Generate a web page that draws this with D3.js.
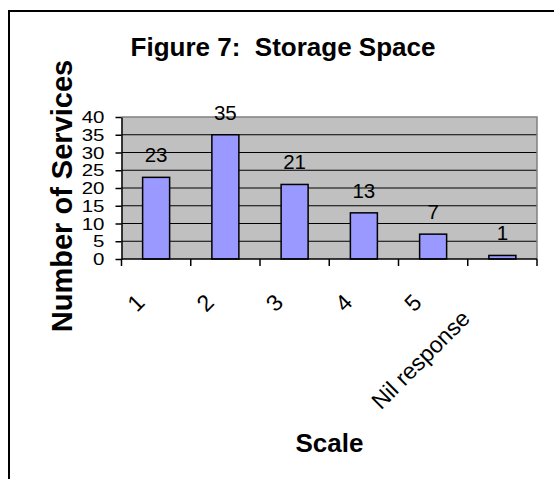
<!DOCTYPE html>
<html><head><meta charset="utf-8">
<script src="https://cdn.jsdelivr.net/npm/d3@7"></script>
<style>
html,body{margin:0;padding:0;background:#fff;}
text{font-family:"Liberation Sans",Arial,sans-serif;white-space:pre;}
</style></head>
<body>
<svg id="c" width="554" height="479"></svg>
<script>
const categories = ["1","2","3","4","5","Nil response"];
const values = [23,35,21,13,7,1];
const yTicks = [0,5,10,15,20,25,30,35,40];
const title = "Figure 7:  Storage Space";
const yTitle = "Number of Services";
const xTitle = "Scale";

const svg = d3.select("#c");
const pLeft = 121.5, pRight = 537, pTop = 117, pBottom = 259;

// outer frame
svg.append("rect").attr("x",9).attr("y",11).attr("width",560).attr("height",480)
  .attr("fill","#fff").attr("stroke","#000").attr("stroke-width",2);

const x = d3.scaleBand().domain(categories).range([pLeft,pRight]).padding(0);
const y = d3.scaleLinear().domain([0,40]).range([pBottom,pTop]);

// plot background
svg.append("rect").attr("x",pLeft).attr("y",pTop).attr("width",pRight-pLeft).attr("height",pBottom-pTop)
  .attr("fill","#c0c0c0");

// gridlines
svg.append("g").selectAll("line").data(yTicks.filter(d=>d>0&&d<40)).join("line")
  .attr("x1",pLeft).attr("x2",pRight).attr("y1",d=>y(d)).attr("y2",d=>y(d))
  .attr("stroke","#000").attr("stroke-width",1.2);
// plot border top/right gray
svg.append("path").attr("d",`M${pLeft},${y(40)}H${pRight}V${pBottom}`)
  .attr("fill","none").attr("stroke","#808080").attr("stroke-width",1.5);

// bars
const bw = x.bandwidth()*0.39;
svg.append("g").selectAll("rect").data(values).join("rect")
  .attr("x",(d,i)=>x(categories[i])+x.bandwidth()/2-bw/2)
  .attr("y",d=>y(d)).attr("width",bw).attr("height",d=>y(0)-y(d))
  .attr("fill","#9999ff").attr("stroke","#000").attr("stroke-width",1.5);

// value labels
svg.append("g").selectAll("text").data(values).join("text")
  .attr("x",(d,i)=>x(categories[i])+x.bandwidth()/2)
  .attr("y",d=>y(d)-15)
  .attr("text-anchor","middle").attr("font-size",20.5).attr("fill","#000")
  .text(d=>d);

// y axis
const ya = svg.append("g").attr("transform",`translate(${pLeft},0)`)
  .call(d3.axisLeft(y).tickValues(yTicks).tickSize(6).tickSizeOuter(0).tickPadding(11));
ya.select(".domain").attr("stroke","#000").attr("stroke-width",1.5);
ya.selectAll(".tick line").attr("stroke","#000").attr("stroke-width",1.5);
ya.selectAll(".tick text").attr("font-size",20.5).attr("font-family","Liberation Sans, Arial, sans-serif")
  .attr("fill","#000").attr("dy","0.34em").attr("transform","scale(1,0.79)");

// x axis line and ticks at band boundaries
const bounds = categories.map(c=>x(c)).concat([pRight]);
svg.append("line").attr("x1",pLeft).attr("x2",pRight).attr("y1",pBottom).attr("y2",pBottom)
  .attr("stroke","#000").attr("stroke-width",1.5);
svg.append("g").selectAll("line").data(bounds).join("line")
  .attr("x1",d=>d).attr("x2",d=>d).attr("y1",pBottom).attr("y2",pBottom+7)
  .attr("stroke","#000").attr("stroke-width",1.5);

// x category labels rotated
const xl = svg.append("g").selectAll("text").data(categories).join("text")
  .attr("font-size",23).attr("fill","#000").attr("text-anchor","end")
  .text(d=>d);
xl.each(function(d){
  const L = this.getComputedTextLength();
  const cx = x(d)+x.bandwidth()/2;
  const ax = cx - 10 - 0.183*(L-12.8);
  const ay = 304 + 0.139*(L-12.8);
  d3.select(this).attr("transform",`translate(${ax},${ay}) rotate(-45)`);
});

// titles
svg.append("text").attr("x",283).attr("y",56).attr("text-anchor","middle")
  .attr("font-size",26).attr("font-weight","bold").text(title);
svg.append("text").attr("transform","translate(71.5,196) rotate(-90)").attr("text-anchor","middle")
  .attr("font-size",29).attr("font-weight","bold").text(yTitle);
svg.append("text").attr("x",329.5).attr("y",452).attr("text-anchor","middle")
  .attr("font-size",26).attr("font-weight","bold").text(xTitle);
</script>
</body></html>
